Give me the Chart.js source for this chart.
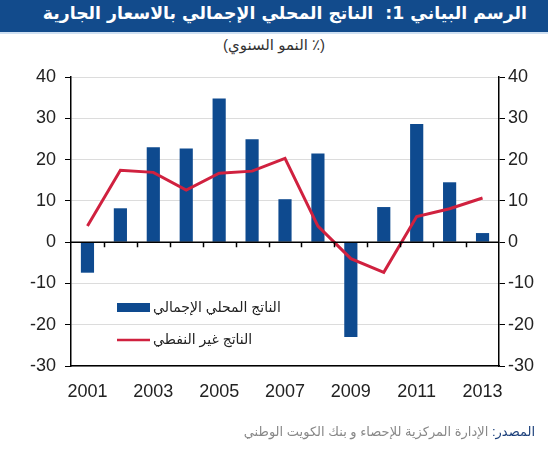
<!DOCTYPE html>
<html>
<head>
<meta charset="utf-8">
<script src="https://cdn.jsdelivr.net/npm/chart.js@4"></script>
<style>
  body { margin: 0; background: #fff; }
  #wrap { position: relative; width: 548px; height: 450px; overflow: hidden; }
  #band { position: absolute; left: 0; top: 0; width: 548px; height: 32px; background: #124b8c;
          border-bottom: 2px solid #cfe0f2; }
  #title { position: absolute; right: 21px; top: 3px; direction: rtl; color: #fff;
           font: bold 17.3px "DejaVu Sans", sans-serif; white-space: pre; }
  #sub { position: absolute; left: 0; width: 548px; top: 36px; text-align: center; direction: rtl;
         color: #333; font: 15px "Liberation Sans", "DejaVu Sans", sans-serif; }
  #src { position: absolute; right: 13px; top: 424px; direction: rtl; color: #888;
         font: 13px "Liberation Sans", "DejaVu Sans", sans-serif; white-space: nowrap; }
  #src span { color: #1b3f7a; }
  canvas { position: absolute; left: 0; top: 0; }
</style>
</head>
<body>
<div id="wrap">
  <div id="band"></div>
  <div id="title">الرسم البياني 1:  الناتج المحلي الإجمالي بالاسعار الجارية</div>
  <div id="sub">(٪ النمو السنوي)</div>
  <canvas id="gdpChart" width="548" height="450"></canvas>
  <div id="src"><span>المصدر:</span> الإدارة المركزية للإحصاء و بنك الكويت الوطني</div>
</div>
<script>
var years = ['2001', '2002', '2003', '2004', '2005', '2006', '2007', '2008', '2009', '2010', '2011', '2012', '2013'];
var gdpGrowth = [-7.4, 8.2, 23, 22.7, 34.8, 24.9, 10.4, 21.5, -23, 8.5, 28.6, 14.5, 2.2];
var nonOilGrowth = [3.9, 17.4, 16.9, 12.6, 16.7, 17.2, 20.3, 3.9, -4, -7.3, 6.2, 8.1, 10.7];
var yTicks = [-30, -20, -10, 0, 10, 20, 30, 40];

var blue = '#0e4a8f';
var red = '#d0213f';
var tickFont = { family: '"Liberation Sans", Arial, sans-serif', size: 18 };

// legend and zero-line ticks drawn inside the plot
var insidePlugin = {
  id: 'inside',
  afterDatasetsDraw: function(chart) {
    var ctx = chart.ctx;
    var x = chart.scales.x;
    var y = chart.scales.y;
    var zero = y.getPixelForValue(0);
    ctx.save();
    ctx.strokeStyle = '#000';
    ctx.lineWidth = 1.5;
    ctx.beginPath();
    ctx.moveTo(chart.chartArea.left, zero);
    ctx.lineTo(chart.chartArea.right, zero);
    for (var i = 1; i < years.length; i++) {
      var px = Math.round((x.getPixelForValue(i - 1) + x.getPixelForValue(i)) / 2) + 0.5;
      ctx.moveTo(px, zero);
      ctx.lineTo(px, zero + 5);
    }
    ctx.stroke();

    var lineSet = chart.data.datasets[0];
    var barSet = chart.data.datasets[1];
    ctx.fillStyle = barSet.backgroundColor;
    ctx.fillRect(117, 303, 33, 9);
    ctx.strokeStyle = lineSet.borderColor;
    ctx.lineWidth = 2.5;
    ctx.beginPath();
    ctx.moveTo(117, 340);
    ctx.lineTo(150, 340);
    ctx.stroke();
    ctx.font = '14px "Liberation Sans", "DejaVu Sans", sans-serif';
    ctx.textBaseline = 'middle';
    ctx.textAlign = 'left';
    ctx.direction = 'rtl';
    ctx.fillStyle = '#222';
    ctx.fillText(barSet.label, 153, 308);
    ctx.fillText(lineSet.label, 153, 340);
    ctx.restore();
  }
};

var ctx = document.getElementById('gdpChart').getContext('2d');
new Chart(ctx, {
  type: 'bar',
  data: {
    labels: years,
    datasets: [{
      type: 'line',
      label: 'الناتج غير النفطي',
      data: nonOilGrowth,
      borderColor: red,
      borderWidth: 3,
      pointRadius: 0,
      tension: 0,
      order: 0
    }, {
      label: 'الناتج المحلي الإجمالي',
      data: gdpGrowth,
      backgroundColor: blue,
      barPercentage: 0.4,
      categoryPercentage: 1,
      order: 1
    }]
  },
  options: {
    animation: false,
    responsive: false,
    events: [],
    layout: { padding: { top: 77, bottom: 0 } },
    plugins: { legend: { display: false }, tooltip: { enabled: false } },
    scales: {
      x: {
        grid: { display: false },
        border: { display: true, color: '#000', width: 1.5 },
        ticks: {
          autoSkip: false, maxRotation: 0, color: '#222', font: tickFont, padding: 7,
          callback: function(v, i) { return i % 2 === 0 ? years[i] : ''; }
        },
        afterFit: function(s) { s.height = 84; }
      },
      y: {
        position: 'left',
        min: -30, max: 40,
        afterBuildTicks: function(s) { s.ticks = yTicks.map(function(v) { return { value: v }; }); },
        grid: { color: '#dcdcdc', tickColor: '#000', tickLength: 6 },
        border: { color: '#000', width: 1.5 },
        ticks: { color: '#222', font: tickFont, padding: 9 },
        afterFit: function(s) { s.width = 71; }
      },
      y2: {
        position: 'right',
        min: -30, max: 40,
        afterBuildTicks: function(s) { s.ticks = yTicks.map(function(v) { return { value: v }; }); },
        grid: { drawOnChartArea: false, tickColor: '#000', tickLength: 6 },
        border: { color: '#000', width: 1.5 },
        ticks: { color: '#222', font: tickFont, padding: 3 },
        afterFit: function(s) { s.width = 49; }
      }
    }
  },
  plugins: [insidePlugin]
});
</script>
</body>
</html>
